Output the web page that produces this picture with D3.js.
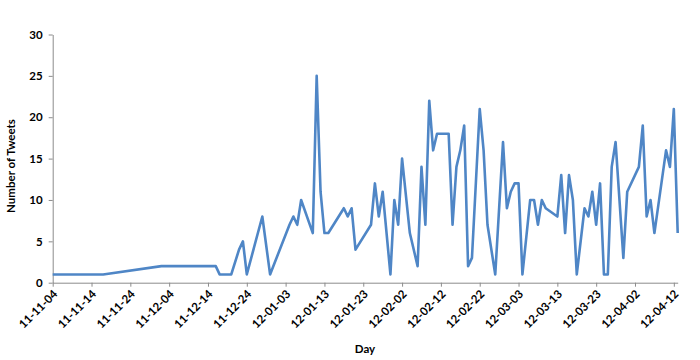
<!DOCTYPE html>
<html><head><meta charset="utf-8">
<script src="https://cdn.jsdelivr.net/npm/d3@7/dist/d3.min.js"></script>
<style>body{margin:0;background:#fff;} text{font-family:Lato,"Liberation Sans",sans-serif;font-weight:bold;fill:#000;}</style>
</head><body><svg id="c" width="700" height="360"></svg>
<script>
const days = ["2011-11-04","2011-11-17","2011-12-02","2011-12-16","2011-12-17","2011-12-20","2011-12-22","2011-12-23","2011-12-24","2011-12-28","2011-12-30",
"2012-01-04","2012-01-05","2012-01-06","2012-01-07","2012-01-10","2012-01-11","2012-01-12","2012-01-13","2012-01-14","2012-01-18","2012-01-19","2012-01-20","2012-01-21",
"2012-01-25","2012-01-26","2012-01-27","2012-01-28","2012-01-30","2012-01-31","2012-02-01","2012-02-02","2012-02-04","2012-02-06","2012-02-07","2012-02-08","2012-02-09",
"2012-02-10","2012-02-11","2012-02-14","2012-02-15","2012-02-16","2012-02-17","2012-02-18","2012-02-19","2012-02-20","2012-02-22","2012-02-23","2012-02-24","2012-02-26",
"2012-02-28","2012-02-29","2012-03-01","2012-03-02","2012-03-03","2012-03-04","2012-03-06","2012-03-07","2012-03-08","2012-03-09","2012-03-10","2012-03-13","2012-03-14",
"2012-03-15","2012-03-16","2012-03-17","2012-03-18","2012-03-20","2012-03-21","2012-03-22","2012-03-23","2012-03-24","2012-03-25","2012-03-26","2012-03-27","2012-03-28",
"2012-03-30","2012-03-31","2012-04-03","2012-04-04","2012-04-05","2012-04-06","2012-04-07","2012-04-10","2012-04-11","2012-04-12","2012-04-13"];
const tweets = [1,1,2,2,1,1,4,5,1,8,1,
7,8,7,10,6,25,11,6,6,9,8,9,4,
7,12,8,11,1,10,7,15,6,2,14,7,22,
16,18,18,7,14,16,19,2,3,21,16,7,1,
17,9,11,12,12,1,10,10,7,10,9,8,13,
6,13,10,1,9,8,11,7,12,1,1,14,17,
3,11,14,19,8,10,6,16,14,21,6];
const tickLabels = ["11-11-04","11-11-14","11-11-24","11-12-04","11-12-14","11-12-24","12-01-03","12-01-13","12-01-23","12-02-02","12-02-12","12-02-22","12-03-03","12-03-13","12-03-23","12-04-02","12-04-12"];
const yTicks = [0,5,10,15,20,25,30];

const parse = d3.timeParse("%Y-%m-%d");
const tickParse = d3.timeParse("%y-%m-%d");
const data = days.map((d,i)=>({date:parse(d), v:tweets[i]}));
const svg = d3.select("#c");
const x = d3.scaleTime().domain([parse("2011-11-04"), parse("2012-04-13")]).range([52.7, 677.7]);
const y = d3.scaleLinear().domain([0,30]).range([282.7, 34.5]);
const axisColor = "#8c8c8c";

// y axis
const ya = svg.append("g").attr("transform","translate(52.7,0)")
  .call(d3.axisLeft(y).tickValues(yTicks).tickSize(4).tickPadding(6).tickSizeOuter(0));
ya.select(".domain").attr("stroke",axisColor);
ya.selectAll(".tick line").attr("stroke",axisColor);
ya.selectAll(".tick text").attr("font-size","11.5px").attr("font-family","Lato,'Liberation Sans',sans-serif").attr("font-weight","bold").attr("fill","#000");

// x axis
const tickDates = tickLabels.map(t=>tickParse(t));
const xa = svg.append("g").attr("transform","translate(0,282.7)")
  .call(d3.axisBottom(x).tickValues(tickDates).tickSize(4).tickSizeOuter(0).tickFormat((d,i)=>tickLabels[i]));
xa.select(".domain").attr("stroke",axisColor);
xa.selectAll(".tick line").attr("stroke",axisColor);
xa.selectAll(".tick text")
  .attr("font-size","11.5px").attr("font-family","Lato,'Liberation Sans',sans-serif").attr("font-weight","bold").attr("fill","#000")
  .attr("text-anchor","end").attr("dy",null).attr("y",0)
  .attr("transform","translate(5,12) rotate(-45)");

// line
svg.append("path").datum(data)
  .attr("fill","none").attr("stroke","#4f86c6").attr("stroke-width",2.6).attr("stroke-linejoin","round")
  .attr("d", d3.line().x(d=>x(d.date)).y(d=>y(d.v)));

// titles
svg.append("text").attr("transform","translate(15,166) rotate(-90)").attr("text-anchor","middle")
  .attr("font-size","11.5px").text("Number of Tweets");
svg.append("text").attr("x",365).attr("y",353).attr("text-anchor","middle")
  .attr("font-size","11.5px").text("Day");
</script></body></html>
